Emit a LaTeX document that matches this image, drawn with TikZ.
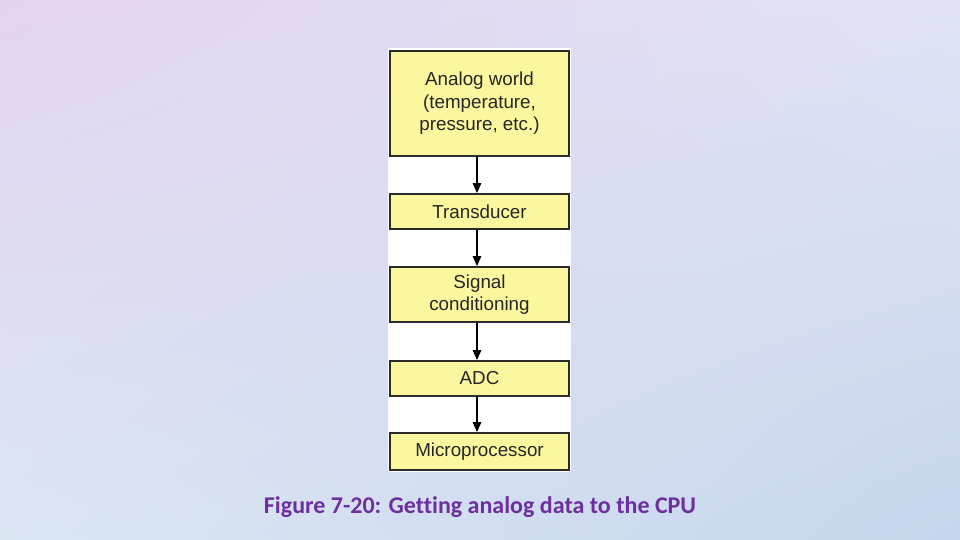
\documentclass[tikz,border=0pt]{standalone}
\usepackage{fontspec}
\setmainfont{Liberation Sans}
\newfontfamily\capfont[Ligatures=NoCommon]{Carlito}
\usetikzlibrary{arrows.meta,shadings}
\definecolor{bgTL}{HTML}{E3D3F0}
\definecolor{bgTR}{HTML}{E1E3F5}
\definecolor{bgBL}{HTML}{DBE6F3}
\definecolor{bgBR}{HTML}{C6D6EE}
\definecolor{boxfill}{HTML}{FBF79E}
\definecolor{boxline}{HTML}{2B2B2B}
\definecolor{capcol}{HTML}{6E2F9E}
\tikzset{
  blockbox/.style={draw=boxline, line width=1.8pt, fill=boxfill, minimum width=179pt,
    inner sep=0pt, align=center, font=\fontsize{18.8}{22.5}\selectfont, text=black!85},
  flowarrow/.style={draw=black, line width=1.3pt, -{Triangle[length=10pt,width=8.5pt]}}
}
\begin{document}
\begin{tikzpicture}[x=1pt,y=-1pt]
\useasboundingbox (0,0) rectangle (960,540);
\shade[upper left=bgTL, upper right=bgTR, lower left=bgBL, lower right=bgBR] (0,0) rectangle (960,540);
\fill[white] (388,48) rectangle (571,472);
\node[blockbox, minimum height=105pt] (world) at (479.5,103.5) {Analog world\\(temperature,\\pressure, etc.)};
\node[blockbox, minimum height=35pt] (trans) at (479.5,211.5) {Transducer};
\node[blockbox, minimum height=55pt] (sig) at (479.5,294.5) {Signal\\conditioning};
\node[blockbox, minimum height=35pt] (adc) at (479.5,378.5) {ADC};
\node[blockbox, minimum height=37pt] (micro) at (479.5,451.5) {Microprocessor};
\draw[flowarrow] (world.south -| 477,0) -- (trans.north -| 477,0);
\draw[flowarrow] (trans.south -| 477,0) -- (sig.north -| 477,0);
\draw[flowarrow] (sig.south -| 477,0) -- (adc.north -| 477,0);
\draw[flowarrow] (adc.south -| 477,0) -- (micro.north -| 477,0);
\node[font=\capfont\bfseries\fontsize{24}{28}\selectfont, text=capcol] (cap) at (480,507) {Figure 7-20: Getting analog data to the CPU};
\end{tikzpicture}
\end{document}
